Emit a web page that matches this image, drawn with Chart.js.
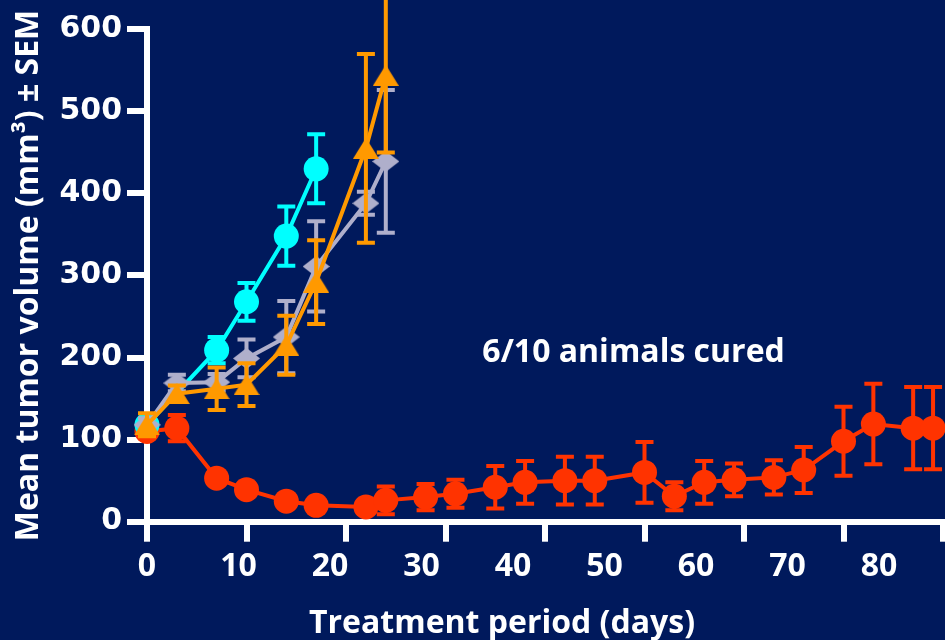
<!DOCTYPE html>
<html>
<head>
<meta charset="utf-8">
<script src="https://cdn.jsdelivr.net/npm/chart.js@4.4.1/dist/chart.umd.min.js"></script>
<style>
  html, body { margin: 0; padding: 0; background: #00195C; }
  canvas { display: block; background: #00195C; }
</style>
</head>
<body>
<canvas id="chart" width="945" height="640"></canvas>
<script>
// Measurement days shared by the three progressing groups
const groupDays = [0, 3, 7, 10, 14, 17, 22, 24];

// Cyan group (circles)
const cyanDays = [0, 7, 10, 14, 17];
const cyanMean = [118, 209, 268, 348, 430];
const cyanSem  = [8, 16, 23, 36, 42];

// Grey group (diamonds)
const grayMean = [118, 169, 170, 199, 225, 311, 388, 439];
const graySem  = [8, 10, 10, 23, 44, 55, 14, 87];

// Orange group (triangles)
const orangeMean = [118, 156, 162, 167, 215, 292, 455, 544];
const orangeSem  = [14, 10, 26, 26, 36, 51, 115, 94];

// Red group (circles), followed to the end of the study
const redDays = [0, 3, 7, 10, 14, 17, 22, 24, 28, 31, 35, 38, 42, 45, 50, 53, 56, 59, 63, 66, 70, 73, 77, 79];
const redMean = [110, 114, 53, 39, 25, 20, 18, 26, 30, 34, 42, 48, 50, 50, 60, 31, 48, 51, 54, 63, 98, 119, 114, 114];
const redSem  = [8, 16, 5, 4, 3, 2, 2, 17, 16, 17, 26, 26, 29, 29, 37, 17, 26, 20, 21, 28, 42, 49, 50, 50];

// Axis ticks
const dayTicks = [0, 10, 20, 30, 40, 50, 60, 70, 80];
const volumeTicks = [0, 100, 200, 300, 400, 500, 600];

const noteText = '6/10 animals cured';
const xTitle = 'Treatment period (days)';
const yTitle = 'Mean tumor volume (mm\u00B3) \u00B1 SEM';

const CYAN = '#00FFFF';
const GRAY = '#AFAFCB';
const ORANGE = '#FF9900';
const RED = '#FF3300';
const WHITE = '#FFFFFF';

function points(days, values) {
  return days.map((d, i) => ({ x: d, y: values[i] }));
}

// Marker bitmaps for the triangle and diamond series
function marker(w, h, color, kind) {
  const c = document.createElement('canvas');
  c.width = w; c.height = h;
  const g = c.getContext('2d');
  g.fillStyle = color;
  g.beginPath();
  if (kind === 'triangle') {
    g.moveTo(w / 2, 0); g.lineTo(w, h); g.lineTo(0, h);
  } else {
    g.moveTo(w / 2, 0); g.lineTo(w, h / 2); g.lineTo(w / 2, h); g.lineTo(0, h / 2);
  }
  g.closePath();
  g.fill();
  return c;
}

// Keep the plot area flush with the canvas edges
function noEdgePadding(s) {
  s.paddingLeft = 0; s.paddingRight = 0; s.paddingTop = 0; s.paddingBottom = 0;
}

// Vertical SEM bars with caps, painted just under each series
const errorBars = {
  id: 'errorBars',
  beforeDatasetDraw(chart, args) {
    const ds = chart.data.datasets[args.index];
    if (!ds.sem) return;
    const xs = chart.scales.x, ys = chart.scales.y, ctx = chart.ctx;
    const half = 9;
    ctx.save();
    ctx.strokeStyle = ds.borderColor;
    ctx.lineWidth = 4;
    ctx.lineCap = 'butt';
    ds.data.forEach((p, i) => {
      const px = xs.getPixelForValue(p.x);
      const top = ys.getPixelForValue(p.y + ds.sem[i]);
      const bot = ys.getPixelForValue(p.y - ds.sem[i]);
      ctx.beginPath();
      ctx.moveTo(px, top); ctx.lineTo(px, bot);
      ctx.moveTo(px - half, top); ctx.lineTo(px + half, top);
      ctx.moveTo(px - half, bot); ctx.lineTo(px + half, bot);
      ctx.stroke();
    });
    ctx.restore();
  }
};

// In-plot note and the horizontal axis caption
const captions = {
  id: 'captions',
  afterDatasetsDraw(chart, args, opts) {
    const ctx = chart.ctx;
    ctx.save();
    ctx.fillStyle = WHITE;
    ctx.font = 'bold 32px "Open Sans"';
    ctx.textAlign = 'center';
    ctx.textBaseline = 'alphabetic';
    ctx.fillText(opts.note.text,
      chart.scales.x.getPixelForValue(opts.note.day),
      chart.scales.y.getPixelForValue(opts.note.value));
    ctx.fillText(opts.axis.text, opts.axis.x, opts.axis.y);
    ctx.restore();
  }
};

const baseLine = {
  type: 'line',
  showLine: true,
  borderWidth: 4,
  tension: 0,
  pointBorderWidth: 0,
  clip: false,
  fill: false
};

new Chart(document.getElementById('chart'), {
  type: 'line',
  data: {
    datasets: [
      Object.assign({}, baseLine, {
        label: 'Orange', data: points(groupDays, orangeMean), sem: orangeSem,
        borderColor: ORANGE, backgroundColor: ORANGE,
        pointStyle: marker(26, 21, ORANGE, 'triangle'), pointRadius: 13, order: 1
      }),
      Object.assign({}, baseLine, {
        label: 'Grey', data: points(groupDays, grayMean), sem: graySem,
        borderColor: GRAY, backgroundColor: GRAY,
        pointStyle: marker(27, 21, GRAY, 'diamond'), pointRadius: 13, order: 2
      }),
      Object.assign({}, baseLine, {
        label: 'Cyan', data: points(cyanDays, cyanMean), sem: cyanSem,
        borderColor: CYAN, backgroundColor: CYAN,
        pointStyle: 'circle', pointRadius: 12.5, order: 3
      }),
      Object.assign({}, baseLine, {
        label: 'Red', data: points(redDays, redMean), sem: redSem,
        borderColor: RED, backgroundColor: RED,
        pointStyle: 'circle', pointRadius: 12.5, order: 4
      })
    ]
  },
  options: {
    responsive: false,
    animation: false,
    events: [],
    layout: { autoPadding: false, padding: { top: 29.3, right: 0, bottom: 0, left: 0 } },
    plugins: {
      legend: { display: false },
      tooltip: { enabled: false },
      captions: {
        note: { text: noteText, day: 48.9, value: 195 },
        axis: { text: xTitle, x: 502, y: 633 }
      }
    },
    scales: {
      // Axis carrying the data and its tick marks
      x: {
        type: 'linear', position: 'bottom', min: 0, max: 80.2, weight: 0,
        afterFit(s) { s.height = 0; noEdgePadding(s); },
        afterBuildTicks(s) { s.ticks = dayTicks.map(v => ({ value: v })); },
        ticks: { display: false },
        grid: { drawOnChartArea: false, color: WHITE, lineWidth: 6, tickLength: 20 },
        border: { color: WHITE, width: 6 }
      },
      // Day numbers printed under the axis
      days: {
        type: 'linear', position: 'bottom', min: 0, max: 87.21, weight: 1,
        afterFit(s) { s.height = 118.3; noEdgePadding(s); },
        afterBuildTicks(s) { s.ticks = dayTicks.map(v => ({ value: v })); },
        ticks: {
          color: WHITE, padding: 18, maxRotation: 0, autoSkip: false,
          font: { family: '"Open Sans"', weight: 'bold', size: 32 }
        },
        grid: { display: false },
        border: { display: false }
      },
      y: {
        type: 'linear', min: 0, max: 600,
        afterFit(s) { s.width = 147; noEdgePadding(s); },
        afterBuildTicks(s) { s.ticks = volumeTicks.map(v => ({ value: v })); },
        ticks: {
          color: WHITE, padding: 5,
          font: { family: '"DejaVu Sans"', weight: 'bold', size: 30 }
        },
        grid: { drawOnChartArea: false, color: WHITE, lineWidth: 6, tickLength: 20 },
        border: { color: WHITE, width: 6 },
        title: {
          display: true, text: yTitle, color: WHITE,
          font: { family: '"Open Sans"', weight: 'bold', size: 32 },
          padding: { top: 10, bottom: 0 }
        }
      }
    }
  },
  plugins: [errorBars, captions]
});
</script>
</body>
</html>
